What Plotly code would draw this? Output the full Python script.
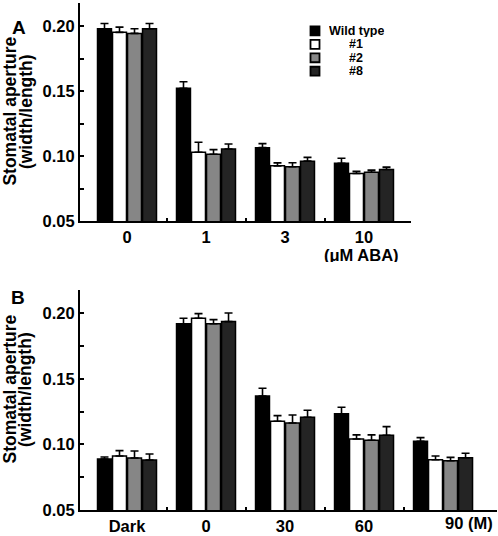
import plotly.graph_objects as go

# ---------------- data ----------------
series_names = ["Wild type", "#1", "#2", "#8"]
series_colors = ["#000000", "#ffffff", "#868686", "#242424"]

cats_A = ["0", "1", "3", "10"]
wt_A = [0.1982, 0.1523, 0.1066, 0.0946]
l1_A = [0.1954, 0.1031, 0.0926, 0.0867]
l2_A = [0.1946, 0.1015, 0.0919, 0.0877]
l8_A = [0.1982, 0.1056, 0.0962, 0.0898]
wt_A_err = [0.0040, 0.0050, 0.0031, 0.0038]
l1_A_err = [0.0040, 0.0076, 0.0023, 0.0016]
l2_A_err = [0.0036, 0.0036, 0.0031, 0.0016]
l8_A_err = [0.0040, 0.0038, 0.0029, 0.0018]

cats_B = ["Dark", "0", "30", "60", "90"]
wt_B = [0.0889, 0.1922, 0.1370, 0.1235, 0.1024]
l1_B = [0.0912, 0.1963, 0.1177, 0.1042, 0.0884]
l2_B = [0.0897, 0.1922, 0.1164, 0.1032, 0.0876]
l8_B = [0.0882, 0.1938, 0.1208, 0.1070, 0.0899]
wt_B_err = [0.0016, 0.0041, 0.0059, 0.0049, 0.0028]
l1_B_err = [0.0041, 0.0036, 0.0043, 0.0031, 0.0028]
l2_B_err = [0.0053, 0.0031, 0.0061, 0.0041, 0.0026]
l8_B_err = [0.0045, 0.0066, 0.0053, 0.0066, 0.0034]

y_ticks = [0.05, 0.10, 0.15, 0.20]
y_minor = [0.075, 0.125, 0.175]

# ---------------- figure ----------------
W, H = 498, 536
L, R, T, B = 80, 1, 3, 24
PW, PH = W - L - R, H - T - B


def px2x(px):
    return (px - L) / PW


def px2y(py):
    return (H - B - py) / PH


FONT = "Liberation Sans, Arial, Helvetica, sans-serif"
fig = go.Figure()

panels = [
    ("x", "y", cats_A, [wt_A, l1_A, l2_A, l8_A], [wt_A_err, l1_A_err, l2_A_err, l8_A_err]),
    ("x2", "y2", cats_B, [wt_B, l1_B, l2_B, l8_B], [wt_B_err, l1_B_err, l2_B_err, l8_B_err]),
]
for xa, ya, cats, vals, errs in panels:
    xs = list(range(len(cats)))
    for name, col, v, e in zip(series_names, series_colors, vals, errs):
        fig.add_trace(go.Bar(
            x=xs, y=v, name=name, xaxis=xa, yaxis=ya, showlegend=False,
            marker=dict(color=col, line=dict(color="black", width=1.5)),
            error_y=dict(type="data", symmetric=False, array=e,
                         arrayminus=[0] * len(e), color="black",
                         thickness=1.6, width=4),
        ))

tickfont = dict(family=FONT, size=16.5, color="black", weight="bold")


def xaxis_cfg(cats, dom, ticktext, rng):
    n = len(cats)
    return dict(
        domain=dom, range=rng,
        tickmode="array", tickvals=list(range(n)), ticktext=ticktext,
        ticks="", showline=True, linecolor="black", linewidth=2,
        showgrid=False, zeroline=False, tickfont=tickfont,
        minor=dict(tickmode="array", tickvals=[i + 0.5 for i in range(n - 1)],
                   ticks="inside", ticklen=3, tickwidth=1.5, tickcolor="black"),
    )


def yaxis_cfg(dom, anchor):
    return dict(
        domain=dom, anchor=anchor, range=[0.05, 0.218],
        tickmode="array", tickvals=y_ticks, ticktext=[f"{v:.2f}" for v in y_ticks],
        ticks="inside", ticklen=4, tickwidth=1.5, tickcolor="black",
        showline=True, linecolor="black", linewidth=2,
        showgrid=False, zeroline=False, tickfont=tickfont,
        minor=dict(tickmode="array", tickvals=y_minor, ticks="inside",
                   ticklen=4, tickwidth=1.5, tickcolor="black"),
    )


domA_x = [0, px2x(411)]
domA_y = [px2y(222), 1]
domB_x = [0, 1]
domB_y = [0, px2y(291)]

fig.update_layout(
    width=W, height=H,
    margin=dict(l=L, r=R, t=T, b=B),
    paper_bgcolor="white", plot_bgcolor="white",
    barmode="group", bargap=0.24, bargroupgap=0.07,
    xaxis=xaxis_cfg(cats_A, domA_x, cats_A, [-0.595, 3.595]) | dict(anchor="y"),
    yaxis=yaxis_cfg(domA_y, "x"),
    xaxis2=xaxis_cfg(cats_B, domB_x, cats_B[:-1] + [""], [-0.595, 4.683]) | dict(anchor="y2"),
    yaxis2=yaxis_cfg(domB_y, "x2"),
    showlegend=False,
)

ann = []
# panel letters
ann.append(dict(text="A", x=px2x(9.5), y=px2y(15), xref="paper", yref="paper",
                showarrow=False, font=dict(family=FONT, size=19, weight="bold", color="black")))
ann.append(dict(text="B", x=px2x(8.5), y=px2y(298.5), xref="paper", yref="paper",
                showarrow=False, font=dict(family=FONT, size=19, weight="bold", color="black")))
# y titles (two lines each)
tfont = dict(family=FONT, size=17.5, weight="bold", color="black")
for cy in (112, 391):
    ann.append(dict(text="Stomatal aperture", x=px2x(10), y=px2y(cy), xref="paper", yref="paper",
                    textangle=-90, showarrow=False, font=tfont, xanchor="center", yanchor="middle"))
    ann.append(dict(text="(width/length)", x=px2x(25.5), y=px2y(cy), xref="paper", yref="paper",
                    textangle=-90, showarrow=False, font=tfont, xanchor="center", yanchor="middle"))
# unit labels
ann.append(dict(text="(\u03bcM ABA)", x=px2x(361), y=px2y(255), xref="paper", yref="paper",
                showarrow=False, font=tickfont, xanchor="center", yanchor="middle", height=15))
ann.append(dict(text=f"{cats_B[-1]} (M)", x=px2x(443), y=px2y(525), xref="paper", yref="paper",
                showarrow=False, font=tickfont, xanchor="left", yanchor="middle"))
# legend
lfont = dict(family=FONT, size=12.5, weight="bold", color="black")
shapes = []
row_y = [31, 44.5, 58, 71.5]
for name, col, cy in zip(series_names, series_colors, row_y):
    shapes.append(dict(type="rect", xref="paper", yref="paper",
                       x0=px2x(310.5), x1=px2x(319.5), y0=px2y(cy - 4.5), y1=px2y(cy + 4.5),
                       fillcolor=col, line=dict(color="black", width=1.8)))
    ann.append(dict(text=name, x=px2x(356), y=px2y(cy), xref="paper", yref="paper",
                    showarrow=False, font=lfont, xanchor="center", yanchor="middle",
                    height=12))

fig.update_layout(annotations=ann, shapes=shapes)
fig.write_html("out.html", config={"displayModeBar": False},
               post_script="document.body.style.margin='0';")
